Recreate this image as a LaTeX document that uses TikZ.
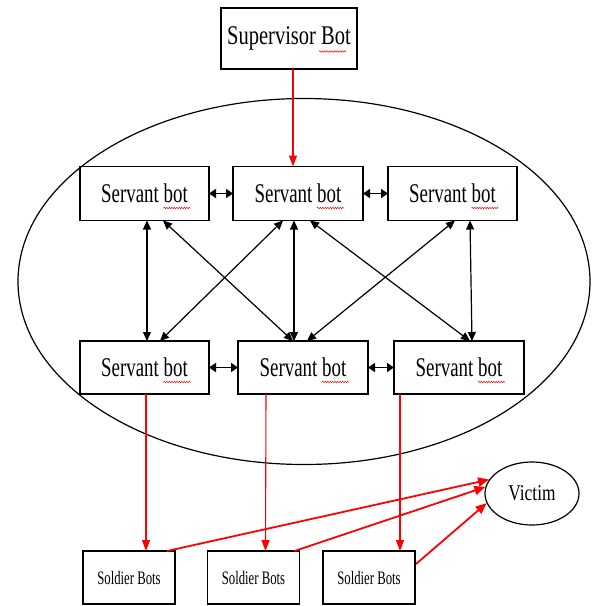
\documentclass[tikz,border=0pt]{standalone}
\usepackage{fontspec}
\setmainfont{Liberation Serif}
\newfontfamily\servfont[FakeStretch=0.70]{Liberation Serif}
\newfontfamily\supfont[FakeStretch=0.76]{Liberation Serif}
\newfontfamily\vicfont[FakeStretch=0.77]{Liberation Serif}
\newfontfamily\solfont[FakeStretch=0.67]{Liberation Serif}
\usetikzlibrary{arrows.meta,calc,decorations.pathmorphing,shapes.geometric}
\begin{document}
\begin{tikzpicture}[x=1pt,y=-1pt,
  box/.style={draw,line width=1.4pt,inner sep=0pt,outer sep=0pt},
  servbox/.style={box,minimum width=129pt,minimum height=54pt,font=\servfont\fontsize{27}{30}\selectfont},
  solbox/.style={box,line width=1.2pt,minimum width=92pt,minimum height=53pt,font=\solfont\fontsize{19}{22}\selectfont},
  dbl/.style={line width=1.2pt,{Triangle[length=9pt,width=8pt]}-{Triangle[length=9pt,width=8pt]}},
  hdbl/.style={line width=1.8pt,{Triangle[length=7pt,width=9pt]}-{Triangle[length=7pt,width=9pt]}},
  redarr/.style={red,line width=1.1pt,-{Triangle[length=11pt,width=8pt]}},
  redthick/.style={red,line width=1.8pt,-{Triangle[length=11pt,width=9pt]}},
  squig/.style={red,line width=0.5pt,decorate,decoration={snake,segment length=2.5pt,amplitude=0.7pt}}
]
\useasboundingbox (0,0) rectangle (597,606);
\fill[white] (0,0) rectangle (597,606);

% big ellipse
\node[draw,ellipse,line width=1.2pt,minimum width=572pt,minimum height=366pt,inner sep=0pt] (cloud) at (304,281.5) {};

% supervisor
\node[box,minimum width=136pt,minimum height=61pt,font=\supfont\fontsize{27}{30}\selectfont] (sup) at (289,38.5) {Supervisor Bot};

% servants
\node[servbox] (tl) at (144.5,193.5) {Servant bot};
\node[servbox,minimum width=130pt] (tm) at (298,193.5) {Servant bot};
\node[servbox] (tr) at (452.5,193.5) {Servant bot};
\node[servbox,minimum height=53pt] (bl) at (144.5,367.5) {Servant bot};
\node[servbox,minimum width=130pt,minimum height=53pt] (bm) at (303,367.5) {Servant bot};
\node[servbox,minimum width=130pt,minimum height=53pt] (br) at (459,367.5) {Servant bot};

% soldiers
\node[solbox] (s1) at (129,577.5) {Soldier Bots};
\node[solbox] (s2) at (253.5,577.5) {Soldier Bots};
\node[solbox] (s3) at (369,577.5) {Soldier Bots};

% victim
\node[draw,ellipse,line width=1.2pt,minimum width=94pt,minimum height=63pt,inner sep=0pt,font=\vicfont\fontsize{22.5}{26}\selectfont] (vic) at (532,493.5) {Victim};

% spell-check squiggles
\draw[squig] ($(sup.center)+(30,13)$) -- ($(sup.center)+(57,13)$);
\foreach \n in {tl,tm,tr,bl,bm,br}{
  \draw[squig] ($(\n.center)+(19,14.5)$) -- ($(\n.center)+(46,14.5)$);
}

% horizontal double arrows
\draw[hdbl] (tl.east) -- (tm.west);
\draw[hdbl] (tm.east) -- (tr.west);
\draw[hdbl] (bl.east) -- (bm.west);
\draw[hdbl] (bm.east) -- (br.west);

% vertical / diagonal double arrows
\draw[dbl] ($(tl.south west)+(67,0)$) -- ($(bl.north west)+(67,0)$);
\draw[dbl] ($(tl.south west)+(83,0)$) -- ($(bm.north west)+(55,0)$);
\draw[dbl] ($(tm.south west)+(50,0)$) -- ($(bl.north west)+(80,0)$);
\draw[dbl] ($(tm.south west)+(61,0)$) -- ($(bm.north west)+(56,0)$);
\draw[dbl] ($(tm.south west)+(77,0)$) -- ($(br.north west)+(76,0)$);
\draw[dbl] ($(tr.south west)+(67,0)$) -- ($(bm.north west)+(69,0)$);
\draw[dbl] ($(tr.south west)+(82,0)$) -- ($(br.north west)+(78,0)$);

% red arrows
\draw[redarr] ($(sup.south west)+(72,0)$) -- ($(tm.north west)+(60,0)$);
\draw[redarr] ($(bl.south west)+(66,0)$) -- ($(s1.north west)+(63,0)$);
\draw[redarr] ($(bm.south west)+(28,0)$) -- ($(s2.north west)+(58,0)$);
\draw[redarr] ($(br.south west)+(6,0)$) -- ($(s3.north west)+(77,0)$);

% to victim
\draw[redthick] ($(s1.north west)+(84,0)$) -- (vic.162);
\draw[redthick] ($(s2.north west)+(87,0)$) -- (vic.172);
\draw[redthick] ($(s3.north east)+(1,13)$) -- (vic.192);
\end{tikzpicture}
\end{document}
